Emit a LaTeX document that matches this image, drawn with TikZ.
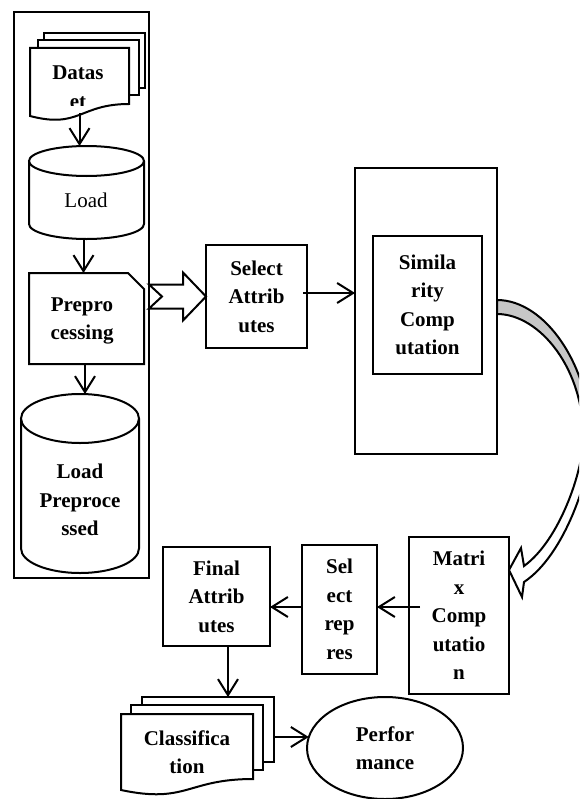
\documentclass[tikz,border=0pt]{standalone}
\usepackage{fontspec}
\setmainfont{Liberation Serif}
\usetikzlibrary{arrows.meta,shapes.geometric,calc}
\begin{document}
\begin{tikzpicture}[x=0.75pt,y=-0.75pt,
  line width=1.5pt, line join=miter,
  lbl/.style={font=\fontsize{15.75}{21.4}\selectfont\bfseries, align=center, inner sep=0pt},
  plainlbl/.style={font=\fontsize{15.75}{21.4}\selectfont, align=center, inner sep=0pt},
  box/.style={draw, rectangle, inner sep=0pt, outer sep=0pt, fill=white},
  ghost/.style={rectangle, inner sep=0pt, outer sep=0pt},
  sz/.style 2 args={minimum width=#1*0.75pt, minimum height=#2*0.75pt},
  arr/.style={-{Straight Barb[length=12pt,width=15pt]}},
  bandback/.style={draw, fill=black!22},
  bandfront/.style={draw, fill=white},
]
\useasboundingbox (0,0) rectangle (579,799);
\clip (0,0) rectangle (579,799);

% ---------- left frame ----------
\node[box, fill=none, sz={135}{566}] (frame) at (81.5,295) {};

% Dataset (multi-document)
\draw[fill=white] (44,33) rectangle (145,88);
\draw[fill=white] (38,40) rectangle (139,95);
\draw[fill=white] (30,48) -- (129,48) -- (129,104) .. controls (79.5,104) and (79.5,129) .. (30,116) -- cycle;
\node[ghost, sz={99}{65}] (dataset) at (79.5,80.5) {};
\begin{scope}
  \clip (30,48) rectangle (129,105);
  \node[lbl] (datasettxt) at (78,87) {Datas\\et};
\end{scope}

% Load cylinder
\draw[fill=white] (29,161) -- (29,224) arc[start angle=180,end angle=360,x radius=43.125pt,y radius=11.25pt] -- (144,161);
\draw[fill=white] (86.5,161) ellipse[x radius=43.125pt,y radius=11.25pt];
\node[ghost, sz={115}{93}] (load) at (86.5,192.5) {};
\node[plainlbl] (loadtxt) at (86,200) {Load};

% Preprocessing card
\draw[fill=white] (29,273) -- (128,273) -- (144,289) -- (144,364) -- (29,364) -- cycle;
\node[ghost, sz={115}{91}] (prepro) at (86.5,318.5) {};
\node[lbl] (preprotxt) at (82,321) {Prepro\\cessing};

% Load Preprocessed cylinder
\draw[fill=white] (21,418.5) -- (21,548.5) arc[start angle=180,end angle=360,x radius=44.25pt,y radius=18.375pt] -- (139,418.5);
\draw[fill=white] (80,418.5) ellipse[x radius=44.25pt,y radius=18.375pt];
\node[ghost, sz={118}{179}] (loadpre) at (80,483.5) {};
\node[lbl] (loadpretxt) at (80,500) {Load\\Preproce\\ssed};

% arrows in frame
\draw[arr] (dataset.south) -- (dataset.south |- load.north);
\draw[arr] (load.south) ++(-3,0) coordinate (l1) -- (l1 |- prepro.north);
\draw[arr] (prepro.south) ++(-1.5,0) coordinate (p1) -- (p1 |- loadpre.north);

% ---------- top row ----------
\node[box, sz={101}{103}, lbl] (selattr) at (256.5,296.5) {Select\\Attrib\\utes};
\node[box, sz={142}{286}] (bigbox) at (426,311) {};
\node[box, sz={109}{138}, lbl] (simil) at (427.5,305) {Simila\\rity\\Comp\\utation};

% hollow block arrow frame -> Select Attributes
\draw[fill=white] (selattr.west) -- ++(-23,-24) -- ++(0,12) coordinate (h1)
  -- (h1 -| frame.east) -- ++(13,12) -- ++(-13,12) coordinate (h2)
  -- (h2 -| h1) -- ++(0,12) -- cycle;

\draw[arr] (selattr.east) ++(-4,-3.5) coordinate (s1) -- (s1 -| bigbox.west);

% ---------- bottom row ----------
\node[box, sz={100}{157}, lbl] (matrix) at (459,615.5) {Matri\\x\\Comp\\utatio\\n};
\node[box, sz={75}{129}, lbl] (selrep) at (339.5,609.5) {Sel\\ect\\rep\\res};
\node[box, sz={107}{99}, lbl] (final) at (216.5,596.5) {Final\\Attrib\\utes};

% curved arrow bigbox -> matrix
\coordinate (ca) at ($(bigbox.east)+(0,-11)$);
\coordinate (cb) at ($(bigbox.east)+(0,3)$);
\coordinate (ct) at ($(matrix.east)+(0,-45.5)$);
\draw[bandback] (ca) .. controls (545,300) and (590,365) .. (591,440)
  -- (583,440) .. controls (585,370) and (540,314) .. (cb) -- cycle;
\draw[bandfront] (591,440) .. controls (591,475) and (565,555) .. (524,582)
  -- (522,597) -- (ct) -- (521,548) -- (524,566)
  .. controls (560,540) and (583,470) .. (583,440) -- cycle;

\draw[arr] (matrix.west) ++(11,-8.5) coordinate (m1) -- (m1 -| selrep.east);
\draw[arr] (selrep.west) ++(0,-2.5) coordinate (r1) -- (r1 -| final.east);

% Classification (multi-document)
\draw[fill=white] (142,697) rectangle (274,762);
\draw[fill=white] (131,705) rectangle (263,770);
\draw[fill=white] (121,714) -- (253,714) -- (253,779) .. controls (187,779) and (187,804) .. (121,790) -- cycle;
\node[ghost, sz={153}{93}] (classif) at (197.5,743.5) {};
\node[lbl] (classiftxt) at (187,752) {Classifica\\tion};

% Performance
\node[draw, ellipse, inner sep=0pt, outer sep=0pt, sz={156}{102}, lbl] (perf) at (385,748) {Perfor\\mance};

\draw[arr] (final.south) ++(11.5,0) coordinate (f1) -- (f1 |- classif.north);
\draw[arr] (classif.east) ++(0,-6.5) coordinate (c1) -- (c1 -| perf.172);
\end{tikzpicture}
\end{document}
